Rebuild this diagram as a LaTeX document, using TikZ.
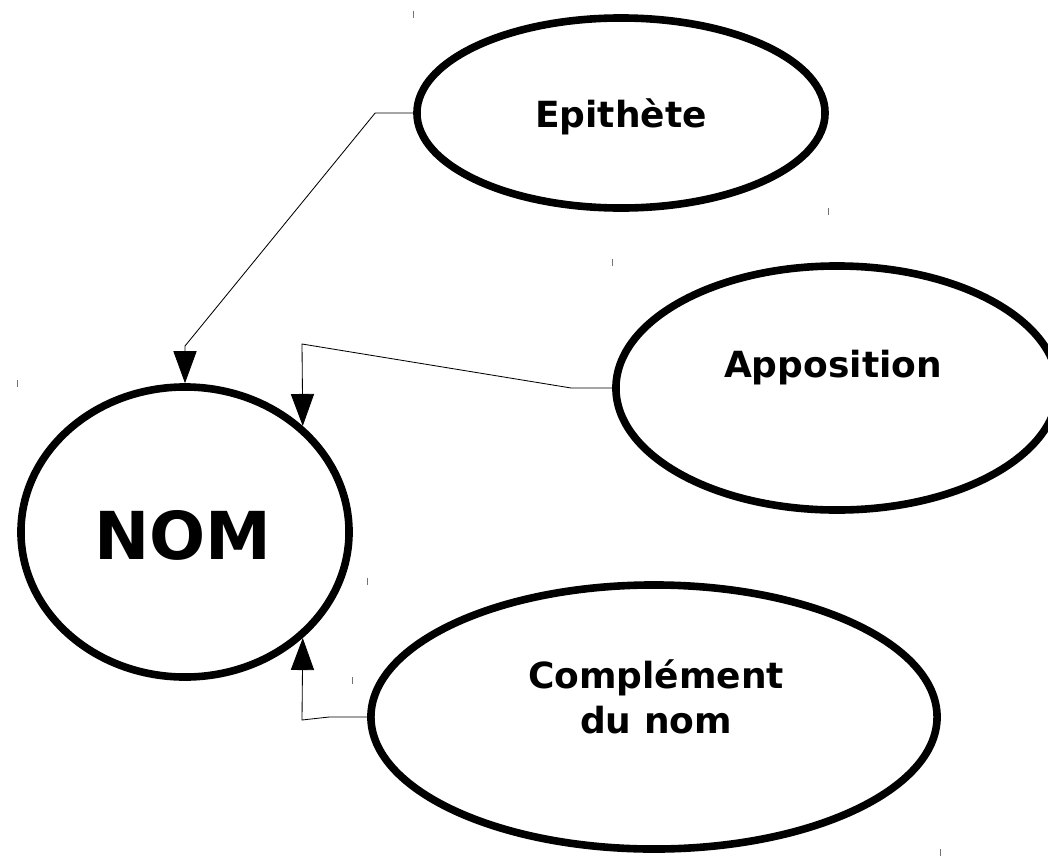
\documentclass[tikz,border=0pt]{standalone}
\usepackage{fontspec}
\setmainfont{DejaVu Sans}
\usetikzlibrary{shapes.geometric,arrows.meta}
\begin{document}
\begin{tikzpicture}[x=0.025cm,y=-0.025cm,
  bubble/.style={draw=black, line width=0.19cm, ellipse, fill=white, inner sep=0pt},
  lbl/.style={font=\fontsize{25.6}{32}\selectfont\bfseries, align=center},
  conn/.style={draw=black, line width=0.6pt, -{Triangle[length=0.8cm,width=0.58cm]}},
  tick/.style={draw=black!55, line width=0.7pt}]
\useasboundingbox (0,0) rectangle (1048,856);
% the four bubbles
\node[bubble, minimum width=8.2cm, minimum height=7.25cm] (nom) at (185,532) {};
\node[bubble, minimum width=10.2cm, minimum height=4.75cm] (epi) at (621,113) {};
\node[bubble, minimum width=11.05cm, minimum height=6.1cm] (app) at (837,388) {};
\node[bubble, minimum width=14.15cm, minimum height=6.6cm] (comp) at (654,717) {};
% texts
\node[font=\fontsize{47}{56}\selectfont\bfseries] (nomtxt) at (183,535) {NOM};
\node[lbl] (epitxt) at (621,117) {Epithète};
\node[lbl] (apptxt) at (833,368) {Apposition};
\node[lbl] (comptxt) at (656,697) {Complément\\du nom};
% links
\draw[conn] (epi.west) -- ++(-38,0) -- (185,346) -- (nom.north);
\draw[conn] (app.west) -- ++(-41,0) -- (302,344) -- (nom.42);
\draw[conn] (comp.west) -- ++(-38,0) -- (302,720) -- (nom.-42);
% corner marks
\foreach \c in {epi.west |- epi.north, epi.east |- epi.south, app.west |- app.north,
                nom.west |- nom.north, nom.east |- nom.south,
                comp.west |- comp.north, comp.east |- comp.south}
  \draw[tick] ([yshift=0.09cm]\c) -- ([yshift=-0.09cm]\c);
\end{tikzpicture}
\end{document}
